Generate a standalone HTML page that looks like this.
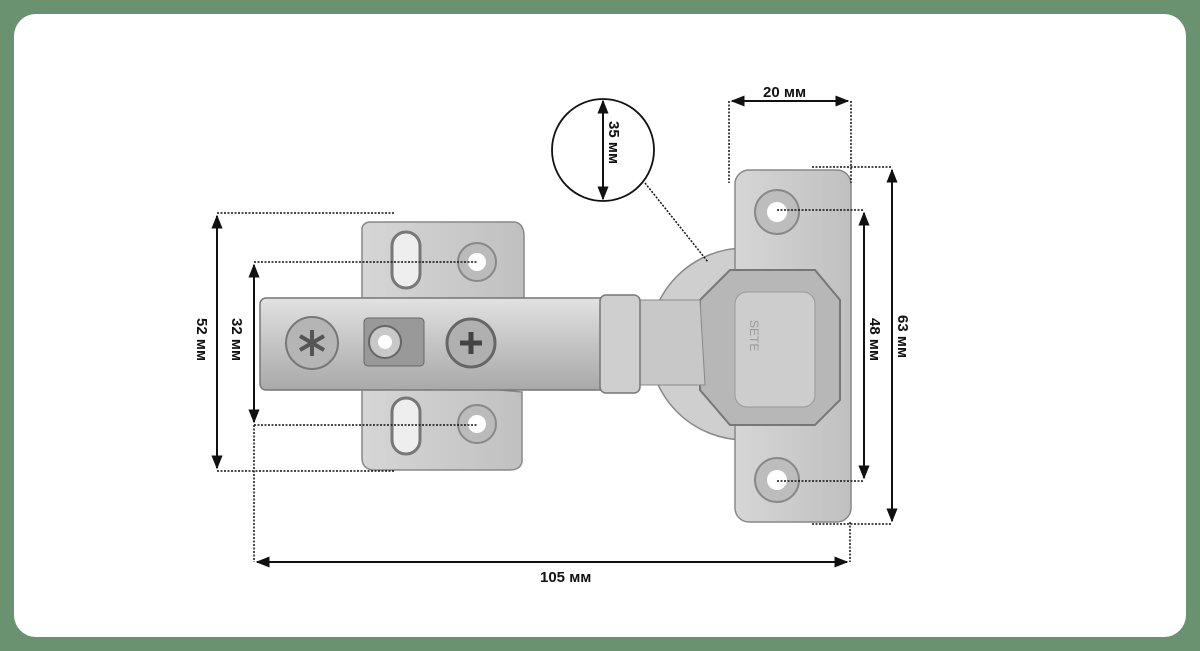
<!DOCTYPE html>
<html><head><meta charset="utf-8"><style>
html,body{margin:0;padding:0;background:#6b9270;}
svg{display:block}
text{font-family:"Liberation Sans",sans-serif;font-weight:bold;font-size:15px;fill:#111}
</style></head><body>
<svg width="1200" height="651" viewBox="0 0 1200 651" xmlns="http://www.w3.org/2000/svg">
<defs>
<marker id="a" viewBox="0 0 10 10" refX="9" refY="5" markerWidth="7" markerHeight="7" orient="auto-start-reverse"><path d="M0,1 L10,5 L0,9 z" fill="#111"/></marker>
<linearGradient id="m" x1="0" y1="0" x2="0" y2="1"><stop offset="0" stop-color="#e2e2e2"/><stop offset="0.5" stop-color="#c4c4c4"/><stop offset="1" stop-color="#a9a9a9"/></linearGradient>
<linearGradient id="m2" x1="0" y1="0" x2="1" y2="0"><stop offset="0" stop-color="#d6d6d6"/><stop offset="1" stop-color="#c0c0c0"/></linearGradient>
</defs>
<rect x="0" y="0" width="1200" height="651" fill="#6b9270"/>
<rect x="14" y="14" width="1172" height="623" rx="22" fill="#fff"/>

<!-- mounting plate -->
<path d="M370,222 L515,222 Q524,224 524,236 L524,300 L500,300 L500,390 L522,392 L522,462 Q520,470 510,470 L372,470 Q362,468 362,458 L362,228 Q364,222 370,222 Z" fill="url(#m2)" stroke="#888" stroke-width="1.5"/>
<rect x="392" y="232" width="28" height="56" rx="14" fill="#eee" stroke="#777" stroke-width="3"/>
<rect x="392" y="398" width="28" height="56" rx="14" fill="#eee" stroke="#777" stroke-width="3"/>
<circle cx="477" cy="262" r="19" fill="#bbb" stroke="#888" stroke-width="2"/><circle cx="477" cy="262" r="9" fill="#fff"/>
<circle cx="477" cy="424" r="19" fill="#bbb" stroke="#888" stroke-width="2"/><circle cx="477" cy="424" r="9" fill="#fff"/>

<!-- cup -->
<path d="M745,248 A95,95 0 0 0 745,440 Z" fill="#cfcfcf" stroke="#888" stroke-width="1.5"/>
<!-- cup plate -->
<rect x="735" y="170" width="116" height="352" rx="14" fill="url(#m2)" stroke="#888" stroke-width="1.5"/>
<path d="M700,300 L730,270 L815,270 L840,300 L840,400 L815,425 L730,425 L700,390 Z" fill="#b7b7b7" stroke="#777" stroke-width="2"/>
<rect x="735" y="292" width="80" height="115" rx="12" fill="#cdcdcd" stroke="#999"/>
<circle cx="777" cy="212" r="22" fill="#bdbdbd" stroke="#888" stroke-width="2"/><circle cx="777" cy="212" r="10" fill="#fff"/>
<circle cx="777" cy="480" r="22" fill="#bdbdbd" stroke="#888" stroke-width="2"/><circle cx="777" cy="480" r="10" fill="#fff"/>
<text x="750" y="320" transform="rotate(90 750 320)" style="font-size:12px;fill:#999;font-weight:normal">SETE</text>

<!-- arm -->
<rect x="260" y="298" width="350" height="92" rx="6" fill="url(#m)" stroke="#777" stroke-width="1.5"/>
<path d="M640,300 L700,300 L705,385 L640,385 Z" fill="#c8c8c8" stroke="#888"/>
<rect x="600" y="295" width="40" height="98" rx="6" fill="#cfcfcf" stroke="#777" stroke-width="1.5"/>
<circle cx="312" cy="343" r="26" fill="#b5b5b5" stroke="#777" stroke-width="2"/>
<path d="M300,336 L324,350 M300,350 L324,336 M312,330 L312,356" stroke="#555" stroke-width="4"/>
<rect x="364" y="318" width="60" height="48" rx="4" fill="#999" stroke="#666"/>
<circle cx="385" cy="342" r="16" fill="#c8c8c8" stroke="#666" stroke-width="2"/><circle cx="385" cy="342" r="7" fill="#fff"/>
<circle cx="471" cy="343" r="24" fill="#b0b0b0" stroke="#666" stroke-width="3"/>
<path d="M460,343 L482,343 M471,332 L471,354" stroke="#444" stroke-width="5"/>

<!-- dimension lines -->
<g stroke="#111" stroke-width="1.5" stroke-dasharray="2,1.5" fill="none">
<path d="M217,213 L395,213 M217,471 L395,471 M254,262 L477,262 M254,425 L477,425 M254,425 L254,562 M850,522 L850,562 M729,101 L729,183 M851,101 L851,183 M812,167 L892,167 M812,524 L892,524 M777,210 L864,210 M777,481 L864,481 M645,183 L708,262"/>
</g>
<g stroke="#111" stroke-width="2" fill="none">
<line x1="217" y1="216" x2="217" y2="468" marker-start="url(#a)" marker-end="url(#a)"/>
<line x1="254" y1="265" x2="254" y2="422" marker-start="url(#a)" marker-end="url(#a)"/>
<line x1="257" y1="562" x2="847" y2="562" marker-start="url(#a)" marker-end="url(#a)"/>
<line x1="732" y1="101" x2="848" y2="101" marker-start="url(#a)" marker-end="url(#a)"/>
<line x1="892" y1="170" x2="892" y2="521" marker-start="url(#a)" marker-end="url(#a)"/>
<line x1="864" y1="213" x2="864" y2="478" marker-start="url(#a)" marker-end="url(#a)"/>
<circle cx="603" cy="150" r="51" stroke-width="1.8"/>
<line x1="603" y1="101" x2="603" y2="199" marker-start="url(#a)" marker-end="url(#a)"/>
</g>
<text x="540" y="582">105 мм</text>
<text x="763" y="97">20 мм</text>
<text x="197" y="318" transform="rotate(90 197 318)">52 мм</text>
<text x="232" y="318" transform="rotate(90 232 318)">32 мм</text>
<text x="870" y="318" transform="rotate(90 870 318)">48 мм</text>
<text x="898" y="315" transform="rotate(90 898 315)">63 мм</text>
<text x="609" y="121" transform="rotate(90 609 121)">35 мм</text>
</svg>
</body></html>
